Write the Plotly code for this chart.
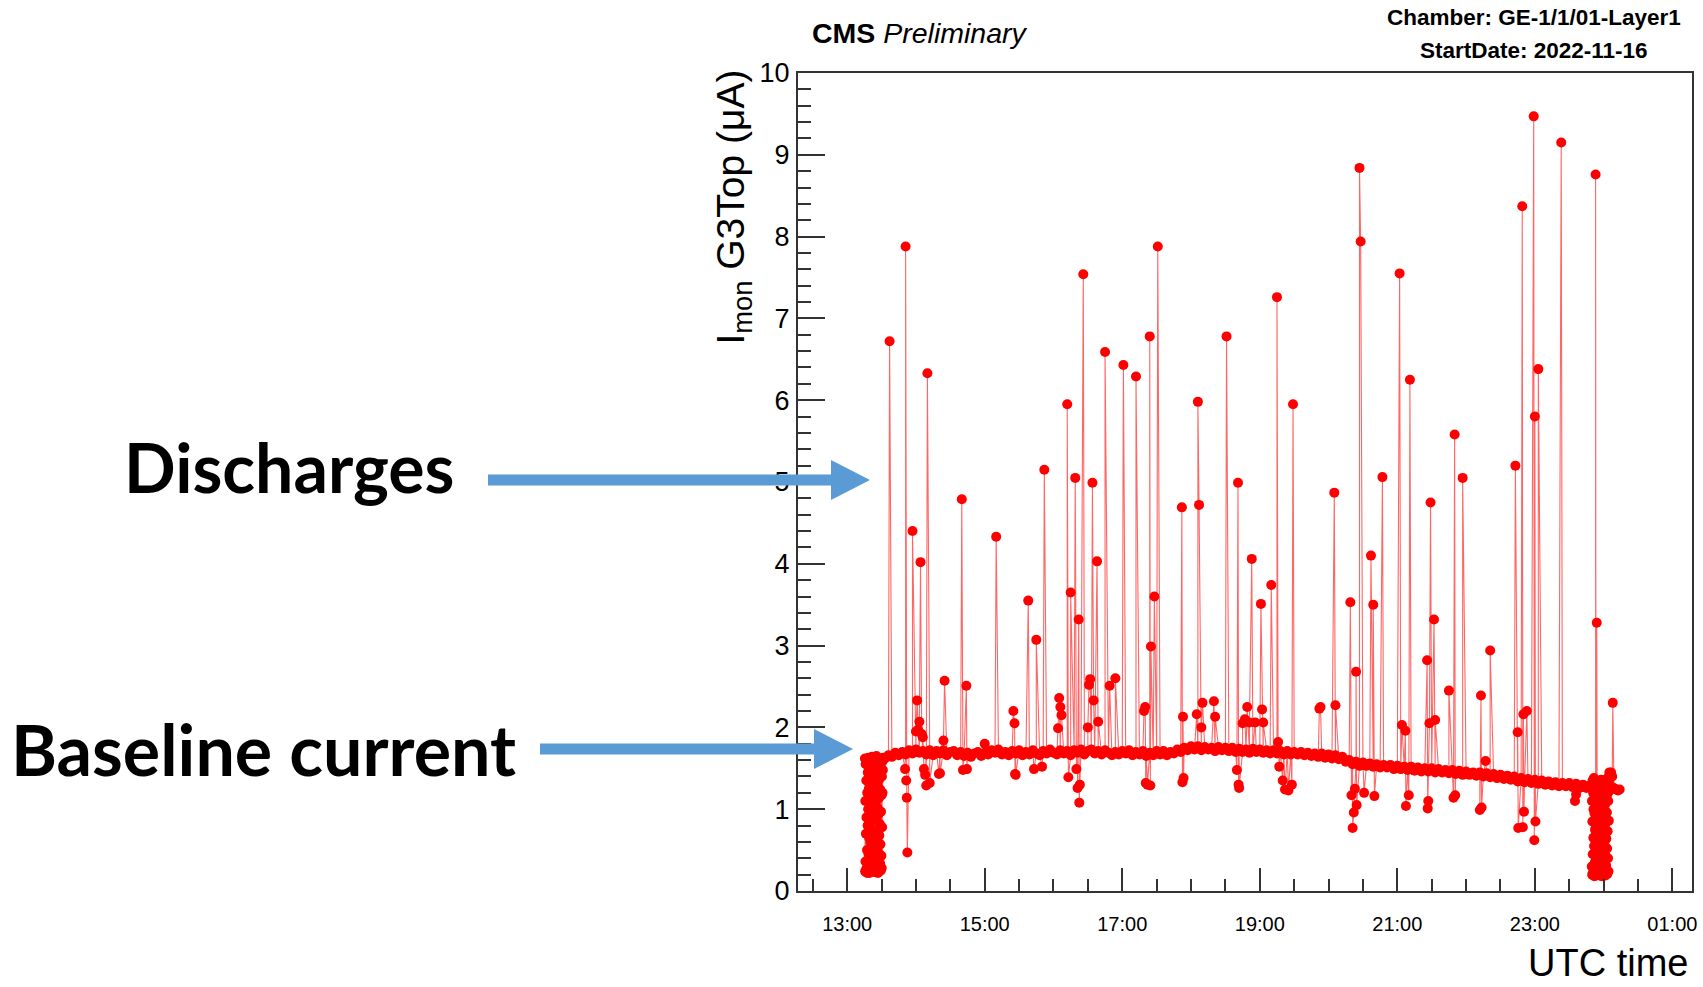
import pandas as pd
import plotly.graph_objects as go

W, H = 1703, 987
DAY0 = pd.Timestamp("2022-11-16")

# ---- data ----
# HV ramp-up readings at the start, every 10 s
ramp_start = "13:15:30"
ramp_step_s = 10
ramp_values = [
    1.62, 0.24, 1.10, 0.36, 1.55, 0.70, 0.23, 1.35, 0.90, 0.28, 1.60, 0.50,
    1.20, 0.22, 0.80, 1.45, 0.31, 1.00, 1.63, 0.45, 0.26, 1.25, 0.65, 1.50,
    0.22, 0.95, 1.40, 0.33, 1.15, 0.60, 1.58, 0.27, 0.85, 1.30, 0.40, 1.05,
    0.24, 1.64, 0.75, 0.30, 1.48, 0.55, 1.18, 0.26, 1.38, 0.98, 1.60, 0.35,
    0.62, 1.52, 0.25, 1.08, 0.42, 1.33, 0.23, 0.88, 1.57, 0.52, 1.22, 0.29,
    1.65, 0.72, 0.38, 1.42, 0.25, 1.02, 0.58, 1.28, 0.22, 0.93, 1.61, 0.47,
    1.13, 0.27, 1.36, 0.68, 0.24, 1.54, 0.82, 0.34, 1.24, 0.57, 1.46, 0.25,
    0.97, 1.62, 0.43, 1.17, 0.28, 1.40, 0.78, 1.58, 1.20, 1.60, 1.48, 1.63,
]

# baseline readings, every 3 min from 13:33
base_start = "13:33:00"
base_step_s = 180
base_values = [
    1.62, 1.66, 1.64, 1.69, 1.66, 1.70, 1.67, 1.72, 1.68, 1.73, 1.69, 1.71, 1.67, 1.72, 1.66, 1.71, 1.68, 1.72, 1.66, 1.70,
    1.71, 1.66, 1.70, 1.65, 1.69, 1.64, 1.68, 1.70, 1.65, 1.69, 1.67, 1.72, 1.69, 1.73, 1.67, 1.70, 1.66, 1.71, 1.68, 1.72,
    1.66, 1.70, 1.67, 1.72, 1.68, 1.66, 1.71, 1.68, 1.73, 1.69, 1.67, 1.72, 1.68, 1.71, 1.66, 1.72, 1.69, 1.73, 1.67, 1.71,
    1.73, 1.68, 1.71, 1.67, 1.72, 1.69, 1.66, 1.70, 1.67, 1.71, 1.68, 1.72, 1.66, 1.70, 1.67, 1.71, 1.65, 1.69, 1.66, 1.71,
    1.67, 1.71, 1.66, 1.70, 1.68, 1.73, 1.70, 1.75, 1.72, 1.77, 1.73, 1.77, 1.72, 1.76, 1.73, 1.75, 1.71, 1.76, 1.72, 1.75,
    1.71, 1.75, 1.70, 1.74, 1.70, 1.73, 1.69, 1.74, 1.70, 1.73, 1.69, 1.72, 1.68, 1.72, 1.68, 1.71, 1.67, 1.71, 1.67, 1.70,
    1.67, 1.70, 1.66, 1.69, 1.65, 1.68, 1.64, 1.68, 1.63, 1.67, 1.62, 1.66, 1.61, 1.64, 1.58, 1.60, 1.55, 1.58, 1.53, 1.57,
    1.53, 1.56, 1.52, 1.55, 1.51, 1.54, 1.51, 1.54, 1.49, 1.53, 1.49, 1.52, 1.48, 1.52, 1.47, 1.51, 1.46, 1.50, 1.46, 1.50,
    1.45, 1.49, 1.45, 1.48, 1.44, 1.48, 1.43, 1.47, 1.42, 1.46, 1.42, 1.45, 1.41, 1.45, 1.40, 1.44, 1.39, 1.43, 1.38, 1.42,
    1.37, 1.41, 1.36, 1.40, 1.34, 1.38, 1.33, 1.37, 1.32, 1.36, 1.31, 1.35, 1.30, 1.34, 1.29, 1.33, 1.28, 1.32, 1.28, 1.32,
    1.27, 1.31, 1.26, 1.30, 1.26, 1.29,
]

# ramp-down readings at the end, every 10 s
end_start = "23:49:30"
end_step_s = 10
end_values = [
    1.30, 0.30, 1.10, 0.20, 0.85, 1.35, 0.45, 0.22, 1.20, 0.65, 1.00, 0.25,
    1.38, 0.55, 0.18, 0.95, 1.25, 0.35, 0.75, 1.15, 0.21, 1.32, 0.60, 0.28,
    1.05, 0.40, 1.28, 0.19, 0.88, 1.18, 0.50, 0.23, 1.34, 0.70, 0.30, 1.12,
    0.20, 0.92, 1.26, 0.42, 0.24, 1.08, 0.62, 0.19, 1.22, 0.80, 1.30, 0.33,
    0.58, 1.36, 0.21, 0.98, 0.38, 1.16, 0.18, 0.78, 1.29, 0.48, 1.02, 0.26,
    1.33, 0.68, 0.22, 1.14, 0.36, 0.90, 0.20, 1.24, 0.55, 0.27, 1.06, 0.44,
    1.31, 0.19, 0.83, 1.20, 0.31, 0.64, 1.37, 0.23, 0.96, 0.52, 1.18, 0.21,
    0.73, 1.28, 0.40, 1.10, 0.24, 1.34, 0.86, 1.40, 1.22, 1.45, 1.30, 1.27,
]

tail_times = ["00:07:00", "00:09:00", "00:11:00", "00:12:30", "00:14:00"]
tail_values = [1.25, 1.26, 1.24, 1.23, 1.24]

# discharges and small upward excursions (time, µA)
discharges = [
    ("13:37", 6.72), ("13:51", 7.88), ("13:57", 4.40), ("14:00", 1.95), ("14:01", 2.33),
    ("14:02", 1.97), ("14:03", 2.07), ("14:04", 4.02), ("14:05", 1.92), ("14:06", 1.88),
    ("14:10", 6.33), ("14:24", 1.84), ("14:25", 2.57), ("14:40", 4.79), ("14:44", 2.51),
    ("15:00", 1.80), ("15:10", 4.33), ("15:25", 2.20), ("15:26", 2.05), ("15:38", 3.55),
    ("15:45", 3.07), ("15:52", 5.15), ("16:04", 1.99), ("16:05", 2.36), ("16:06", 2.25),
    ("16:07", 2.15), ("16:12", 5.95), ("16:15", 3.65), ("16:19", 5.05), ("16:22", 3.32),
    ("16:26", 7.54), ("16:30", 2.00), ("16:31", 2.52), ("16:32", 2.59), ("16:34", 4.99),
    ("16:35", 2.33), ("16:38", 4.03), ("16:39", 2.07), ("16:45", 6.59), ("16:49", 2.51),
    ("16:54", 2.60), ("17:01", 6.43), ("17:12", 6.29), ("17:19", 2.20), ("17:20", 2.25),
    ("17:24", 6.78), ("17:25", 2.99), ("17:28", 3.60), ("17:31", 7.88), ("17:52", 4.69),
    ("17:53", 2.13), ("18:05", 2.16), ("18:06", 5.98), ("18:07", 4.72), ("18:09", 2.00),
    ("18:10", 2.30), ("18:20", 2.32), ("18:21", 2.13), ("18:31", 6.78), ("18:41", 4.99),
    ("18:45", 2.05), ("18:47", 2.10), ("18:49", 2.25), ("18:51", 2.06), ("18:53", 4.06),
    ("18:56", 2.06), ("19:01", 3.51), ("19:02", 2.22), ("19:03", 2.06), ("19:10", 3.74),
    ("19:15", 7.26), ("19:16", 1.82), ("19:29", 5.95), ("19:52", 2.23), ("19:53", 2.25),
    ("20:05", 4.87), ("20:06", 2.27), ("20:19", 3.53), ("20:24", 2.68), ("20:27", 8.84),
    ("20:28", 7.94), ("20:37", 4.10), ("20:39", 3.50), ("20:47", 5.06), ("21:02", 7.55),
    ("21:04", 2.03), ("21:07", 1.96), ("21:11", 6.25), ("21:26", 2.82), ("21:28", 2.05),
    ("21:29", 4.75), ("21:32", 3.32), ("21:33", 2.09), ("21:45", 2.45), ("21:50", 5.58),
    ("21:57", 5.05), ("22:13", 2.39), ("22:17", 1.59), ("22:21", 2.94), ("22:43", 5.20),
    ("22:45", 1.94), ("22:49", 8.37), ("22:50", 2.16), ("22:53", 2.20), ("22:59", 9.47),
    ("23:00", 5.80), ("23:03", 6.38), ("23:23", 9.15), ("23:53", 8.76), ("23:54", 3.28),
    ("00:06:30", 1.45), ("00:07:30", 1.40), ("00:08", 2.30),
]

# downward excursions (time, µA)
dips = [
    ("13:50:30", 1.49), ("13:51:30", 1.35), ("13:52:00", 1.14), ("13:52:30", 0.47),
    ("14:07", 1.49), ("14:08", 1.42), ("14:09", 1.29), ("14:12", 1.32), ("14:20", 1.43),
    ("14:21", 1.44), ("14:41", 1.48), ("14:44:30", 1.49), ("15:26:30", 1.43), ("15:27", 1.42),
    ("15:43", 1.49), ("15:50", 1.52), ("16:13", 1.39), ("16:20", 1.49), ("16:21", 1.26),
    ("16:22:30", 1.08), ("16:23", 1.30), ("17:20:30", 1.32), ("17:22", 1.30), ("17:24:30", 1.29),
    ("17:52:30", 1.33), ("17:53:30", 1.38), ("18:40", 1.48), ("18:41:30", 1.30), ("18:42", 1.26),
    ("19:17", 1.52), ("19:20", 1.35), ("19:22", 1.24), ("19:25", 1.23), ("19:28", 1.30),
    ("20:20", 1.17), ("20:21", 0.77), ("20:22", 0.96), ("20:23", 1.25), ("20:24:30", 1.05),
    ("20:31", 1.20), ("20:40", 1.16), ("21:07:30", 1.04), ("21:10", 1.17), ("21:26:30", 1.01),
    ("21:27", 1.10), ("21:49", 1.14), ("21:50:30", 1.17), ("22:12", 0.99), ("22:13:30", 1.02),
    ("22:45:30", 0.77), ("22:49:30", 0.78), ("22:50:30", 0.97), ("22:59:30", 0.62),
    ("23:00:30", 0.85), ("23:35", 1.10), ("23:36", 1.18),
]

x_range = ("12:17:06", "01:17:06")
major_tick_start = "13:00:00"

# ---- helpers ----
def ts(hms):
    parts = [int(p) for p in hms.split(":")]
    while len(parts) < 3:
        parts.append(0)
    h, m, s = parts
    day = DAY0 + pd.Timedelta(days=1) if h < 12 else DAY0
    return day + pd.Timedelta(hours=h, minutes=m, seconds=s)

def regular(start, step_s, values):
    t0 = ts(start)
    return [(t0 + pd.Timedelta(seconds=step_s * i), v) for i, v in enumerate(values)]

readings = []
readings += regular(ramp_start, ramp_step_s, ramp_values)
readings += regular(base_start, base_step_s, base_values)
readings += regular(end_start, end_step_s, end_values)
readings += [(ts(t), v) for t, v in zip(tail_times, tail_values)]
readings += [(ts(t), v) for t, v in discharges]
readings += [(ts(t), v) for t, v in dips]
df = pd.DataFrame(readings, columns=["time", "imon"]).sort_values("time", kind="stable")

fig = go.Figure()
fig.add_trace(go.Scatter(
    x=df["time"], y=df["imon"], mode="lines+markers",
    line=dict(color="rgba(255,0,0,0.6)", width=1.1),
    marker=dict(color="#ff0000", size=10, line=dict(width=0)),
    showlegend=False, hoverinfo="skip",
))

def px(x):
    return x / W

def py(y):
    return 1 - y / H

AX = "#333333"
FONT = "Liberation Sans, Arial, sans-serif"
fig.update_layout(
    width=W, height=H,
    margin=dict(l=0, r=0, t=0, b=0, autoexpand=False),
    paper_bgcolor="white", plot_bgcolor="white",
    font=dict(family=FONT, color="black"),
    xaxis=dict(
        domain=[px(798), px(1692)],
        type="date", automargin=False,
        range=[ts(x_range[0]), ts(x_range[1])],
        tickmode="linear", tick0=ts(major_tick_start), dtick=2 * 3600 * 1000,
        tickformat="%H:%M",
        ticks="inside", ticklen=23, tickwidth=1.5, tickcolor=AX,
        minor=dict(dtick=30 * 60 * 1000, tick0=ts(major_tick_start), ticks="inside",
                   ticklen=12, tickwidth=1.5, tickcolor=AX, showgrid=False),
        showgrid=False, zeroline=False,
        showline=True, mirror=True, linecolor=AX, linewidth=2,
        tickfont=dict(size=20, family=FONT),
        ticklabelstandoff=14,
    ),
    yaxis=dict(
        domain=[py(891), py(73)],
        range=[0, 10], automargin=False,
        tickmode="linear", tick0=0, dtick=1,
        ticks="inside", ticklen=27, tickwidth=1.5, tickcolor=AX,
        minor=dict(dtick=0.2, ticks="inside", ticklen=13, tickwidth=1.5,
                   tickcolor=AX, showgrid=False),
        showgrid=False, zeroline=False,
        showline=True, mirror=True, linecolor=AX, linewidth=2,
        tickfont=dict(size=27, family=FONT),
        ticklabelstandoff=1,
    ),
)

annotations = [
    dict(text="I<sub>mon</sub> G3Top (μA)", textangle=-90, x=px(733), y=py(68),
         xanchor="center", yanchor="top", font=dict(size=39)),
    dict(text="UTC time", x=px(1690), y=py(963), xanchor="right", yanchor="middle",
         font=dict(size=38)),
    dict(text="<b>CMS</b> <i>Preliminary</i>", x=px(810), y=py(33), xanchor="left",
         yanchor="middle", font=dict(size=28.5)),
    dict(text="<b>Chamber: GE-1/1/01-Layer1</b>", x=px(1534), y=py(18), xanchor="center",
         yanchor="middle", font=dict(size=22.5)),
    dict(text="<b>StartDate: 2022-11-16</b>", x=px(1534), y=py(50), xanchor="center",
         yanchor="middle", font=dict(size=22.5)),
    dict(text="Discharges", x=px(122), y=py(466), xanchor="left", yanchor="middle",
         font=dict(size=68, family="Lato", weight=700)),
    dict(text="Baseline current", x=px(9), y=py(749), xanchor="left", yanchor="middle",
         font=dict(size=70, family="Lato", weight=700)),
]
for a in annotations:
    a.update(xref="paper", yref="paper", showarrow=False)
fig.update_layout(annotations=annotations)

BLUE = "#5B9BD5"
shapes = []
for (x0, x1, xt, yc) in [(488, 833, 870, 480), (540, 816, 853, 749)]:
    shapes.append(dict(type="line", xref="paper", yref="paper",
                       x0=px(x0), x1=px(x1), y0=py(yc), y1=py(yc),
                       line=dict(color=BLUE, width=11), layer="above"))
    hb = x1 - 2
    path = (f"M {px(hb)} {py(yc - 20)} L {px(xt)} {py(yc)} "
            f"L {px(hb)} {py(yc + 20)} Z")
    shapes.append(dict(type="path", xref="paper", yref="paper", path=path,
                       fillcolor=BLUE, line=dict(width=0), layer="above"))
fig.update_layout(shapes=shapes)

fig.write_html(
    "out.html",
    config={"displayModeBar": False},
    post_script="document.body.style.margin='0px';document.body.style.overflow='hidden';",
)
